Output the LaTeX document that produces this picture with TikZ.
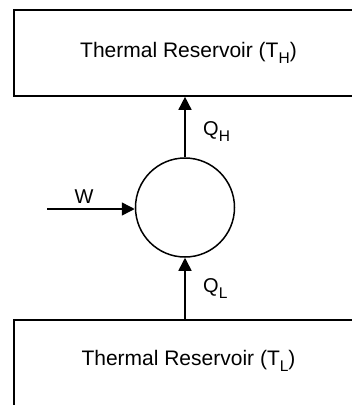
\documentclass[tikz,border=0pt]{standalone}
\usepackage{fontspec}
\setmainfont{Liberation Sans}
\usetikzlibrary{arrows.meta}
\newcommand\lowsub[1]{\raisebox{-0.3em}{\fontsize{15.5}{17}\selectfont #1}}
\tikzset{
  reservoir/.style={draw, line width=1.6pt, minimum width=349pt, minimum height=86pt, inner sep=0pt, font=\fontsize{21}{24}\selectfont},
  engine/.style={draw, circle, line width=1.5pt, minimum size=99pt, inner sep=0pt},
  flow/.style={line width=1.5pt, -{Triangle[length=13pt,width=13pt]}},
  lbl/.style={inner sep=0pt, font=\fontsize{20}{23}\selectfont}
}
\begin{document}
\begin{tikzpicture}[x=1pt,y=-1pt]
\useasboundingbox (0,0) rectangle (352,405);
\clip (0,0) rectangle (352,405);
\node[reservoir] (hot) at (188.5,53) {Thermal Reservoir (T\lowsub{H})};
\node[reservoir, minimum height=90pt] (cold) at (188.5,365) {};
\node[lbl, font=\fontsize{21}{24}\selectfont] (coldlbl) at ([yshift=4pt]cold.center) {Thermal Reservoir (T\lowsub{L})};
\node[engine] (eng) at (185,207.5) {};
\coordinate (wstart) at (47,209);
\draw[flow] (eng.north) -- (eng.north |- hot.south);
\draw[flow] (eng.south |- cold.north) -- (eng.south);
\draw[flow] (wstart) -- (wstart -| eng.west);
\node[lbl, anchor=base] (wl) at (84,203.3) {W};
\node[lbl, anchor=base west] (qh) at (203,135) {Q\lowsub{H}};
\node[lbl, anchor=base west] (ql) at (203,292) {Q\lowsub{L}};
\end{tikzpicture}
\end{document}
